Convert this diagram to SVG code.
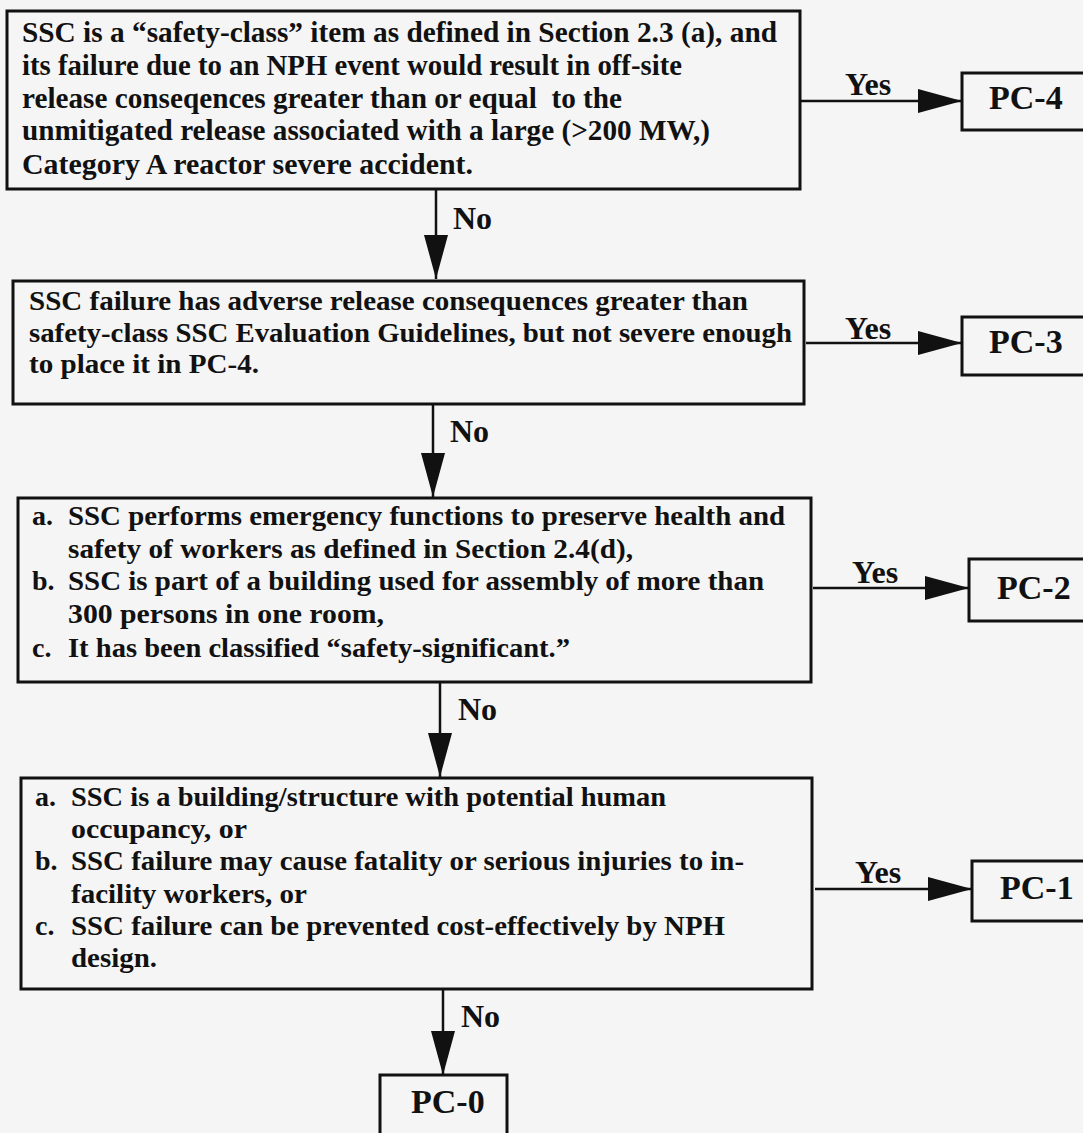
<svg xmlns="http://www.w3.org/2000/svg" width="1083" height="1133" viewBox="0 0 1083 1133">
<defs>
<style>
.bg{fill:#f5f5f5}
.box{fill:none;stroke:#111;stroke-width:3}
.t{font-family:"Liberation Serif","Times New Roman",serif;font-weight:bold;fill:#111}
.t1{font-size:28.5px}
.t2{font-size:28px}
.lbl{font-size:32px}
.pc{font-size:34px}
.con{stroke:#111;stroke-width:2.5;fill:none}
</style>
<marker id="ah" viewBox="0 0 44 24" refX="44" refY="12" markerWidth="44" markerHeight="24" markerUnits="userSpaceOnUse" orient="auto">
<path d="M0,0 L44,12 L0,24 z" fill="#111"/>
</marker>
</defs>
<rect class="bg" x="0" y="0" width="1083" height="1133"/>

<g id="q1">
<rect class="box" x="7" y="11" width="793" height="178"/>
<text class="t t1" x="22" y="42" textLength="755" lengthAdjust="spacingAndGlyphs">SSC is a “safety-class” item as defined in Section 2.3 (a), and</text>
<text class="t t1" x="22" y="75" textLength="660" lengthAdjust="spacingAndGlyphs">its failure due to an NPH event would result in off-site</text>
<text class="t t1" x="22" y="108" textLength="600" lengthAdjust="spacingAndGlyphs" style="white-space:pre">release conseqences greater than or equal  to the</text>
<text class="t t1" x="22" y="140" textLength="688" lengthAdjust="spacingAndGlyphs">unmitigated release associated with a large (&gt;200 MW,)</text>
<text class="t t1" x="22" y="174" textLength="451" lengthAdjust="spacingAndGlyphs">Category A reactor severe accident.</text>
</g>

<g id="q2">
<rect class="box" x="13" y="281" width="791" height="123"/>
<text class="t t2" x="29" y="310" textLength="719" lengthAdjust="spacingAndGlyphs">SSC failure has adverse release consequences greater than</text>
<text class="t t2" x="29" y="342" textLength="763" lengthAdjust="spacingAndGlyphs">safety-class SSC Evaluation Guidelines, but not severe enough</text>
<text class="t t2" x="29" y="373" textLength="230" lengthAdjust="spacingAndGlyphs">to place it in PC-4.</text>
</g>

<g id="q3">
<rect class="box" x="18" y="498" width="793" height="184"/>
<text class="t t2" x="32" y="525">a.</text>
<text class="t t2" x="68" y="525" textLength="717" lengthAdjust="spacingAndGlyphs">SSC performs emergency functions to preserve health and</text>
<text class="t t2" x="68" y="558" textLength="565" lengthAdjust="spacingAndGlyphs">safety of workers as defined in Section 2.4(d),</text>
<text class="t t2" x="32" y="590">b.</text>
<text class="t t2" x="68" y="590" textLength="696" lengthAdjust="spacingAndGlyphs">SSC is part of a building used for assembly of more than</text>
<text class="t t2" x="68" y="623" textLength="316" lengthAdjust="spacingAndGlyphs">300 persons in one room,</text>
<text class="t t2" x="32" y="657">c.</text>
<text class="t t2" x="68" y="657" textLength="502" lengthAdjust="spacingAndGlyphs">It has been classified “safety-significant.”</text>
</g>

<g id="q4">
<rect class="box" x="21" y="778" width="791" height="211"/>
<text class="t t2" x="35" y="806">a.</text>
<text class="t t2" x="71" y="806" textLength="595" lengthAdjust="spacingAndGlyphs">SSC is a building/structure with potential human</text>
<text class="t t2" x="71" y="838" textLength="176" lengthAdjust="spacingAndGlyphs">occupancy, or</text>
<text class="t t2" x="35" y="870">b.</text>
<text class="t t2" x="71" y="870" textLength="673" lengthAdjust="spacingAndGlyphs">SSC failure may cause fatality or serious injuries to in-</text>
<text class="t t2" x="71" y="903" textLength="236" lengthAdjust="spacingAndGlyphs">facility workers, or</text>
<text class="t t2" x="35" y="935">c.</text>
<text class="t t2" x="71" y="935" textLength="654" lengthAdjust="spacingAndGlyphs">SSC failure can be prevented cost-effectively by NPH</text>
<text class="t t2" x="71" y="967" textLength="86" lengthAdjust="spacingAndGlyphs">design.</text>
</g>

<g id="pc4">
<rect class="box" x="962" y="73" width="130" height="57"/>
<text class="t pc" x="989" y="109">PC-4</text>
</g>
<g id="pc3">
<rect class="box" x="962" y="317" width="130" height="58"/>
<text class="t pc" x="989" y="353">PC-3</text>
</g>
<g id="pc2">
<rect class="box" x="969" y="559" width="130" height="62"/>
<text class="t pc" x="997" y="599">PC-2</text>
</g>
<g id="pc1">
<rect class="box" x="972" y="861" width="130" height="60"/>
<text class="t pc" x="1000" y="899">PC-1</text>
</g>
<g id="pc0">
<rect class="box" x="380" y="1075" width="127" height="70"/>
<text class="t pc" x="411" y="1113">PC-0</text>
</g>

<g id="connectors">
<line class="con" x1="436" y1="189" x2="436" y2="279" marker-end="url(#ah)"/>
<line class="con" x1="433" y1="404" x2="433" y2="497" marker-end="url(#ah)"/>
<line class="con" x1="440" y1="682" x2="440" y2="777" marker-end="url(#ah)"/>
<line class="con" x1="443" y1="989" x2="443" y2="1075" marker-end="url(#ah)"/>
<line class="con" x1="801" y1="101" x2="962" y2="101" marker-end="url(#ah)"/>
<line class="con" x1="806" y1="343" x2="962" y2="343" marker-end="url(#ah)"/>
<line class="con" x1="813" y1="588" x2="969" y2="588" marker-end="url(#ah)"/>
<line class="con" x1="815" y1="889" x2="972" y2="889" marker-end="url(#ah)"/>
<text class="t lbl" x="453" y="229">No</text>
<text class="t lbl" x="450" y="442">No</text>
<text class="t lbl" x="458" y="720">No</text>
<text class="t lbl" x="461" y="1027">No</text>
<text class="t lbl" x="845" y="95">Yes</text>
<text class="t lbl" x="845" y="339">Yes</text>
<text class="t lbl" x="852" y="583">Yes</text>
<text class="t lbl" x="855" y="883">Yes</text>
</g>
</svg>
